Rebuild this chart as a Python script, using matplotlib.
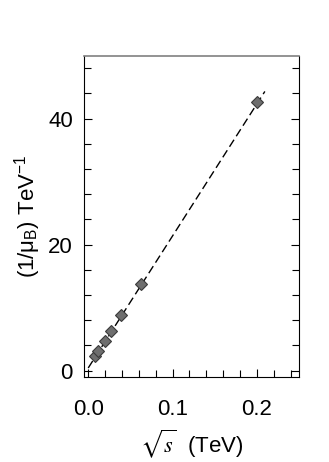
import matplotlib
matplotlib.use("Agg")
import matplotlib.pyplot as plt
from matplotlib.ticker import MultipleLocator

# data
sqrt_s = [0.0077, 0.0115, 0.0196, 0.0270, 0.0390, 0.0624, 0.2000]  # TeV
inv_mu_b = [2.27, 3.07, 4.76, 6.35, 8.80, 13.80, 42.60]            # TeV^-1

# dashed fit line endpoints
fit_x = [0.0, 0.2095]
fit_y = [0.43, 44.3]

plt.rcParams.update({
    "font.family": ["Liberation Sans", "DejaVu Sans"],
    "mathtext.fontset": "stix",
    "font.size": 16,
})

fig = plt.figure(figsize=(3.29, 4.62), dpi=100)
ax = fig.add_axes([84 / 329, 1 - 377 / 462, 215 / 329, 321.5 / 462])

ax.plot(fit_x, fit_y, "--", color="black", lw=1.0, dashes=(6, 3))
ax.plot(sqrt_s, inv_mu_b, "D", ms=6.5, mfc="#6e6e6e", mec="#3a3a3a", mew=0.8)

ax.set_xlim(-0.005, 0.25)
ax.set_ylim(-1, 50)
ax.xaxis.set_major_locator(MultipleLocator(0.1))
ax.xaxis.set_minor_locator(MultipleLocator(0.02))
ax.yaxis.set_major_locator(MultipleLocator(20))
ax.yaxis.set_minor_locator(MultipleLocator(4))
ax.xaxis.set_major_formatter(plt.FormatStrFormatter("%.1f"))

ax.tick_params(which="both", direction="in", top=False, right=True, width=0.8)
ax.tick_params(which="major", length=6, labelsize=16)
ax.tick_params(which="minor", length=5)
ax.tick_params(axis="x", which="major", pad=16)
ax.tick_params(axis="y", which="major", pad=8)

for side in ["left", "right", "bottom"]:
    ax.spines[side].set_linewidth(0.8)
ax.spines["top"].set_color("#808080")
ax.spines["top"].set_linewidth(1.2)

ax.set_xlabel(r"$\sqrt{s}$  (TeV)", fontsize=16, labelpad=5)
ax.set_ylabel(r"(1/$\mathregular{\mu_B}$) TeV$^{\mathregular{-1}}$", fontsize=16, labelpad=4)

fig.savefig("out.png", dpi=100)
